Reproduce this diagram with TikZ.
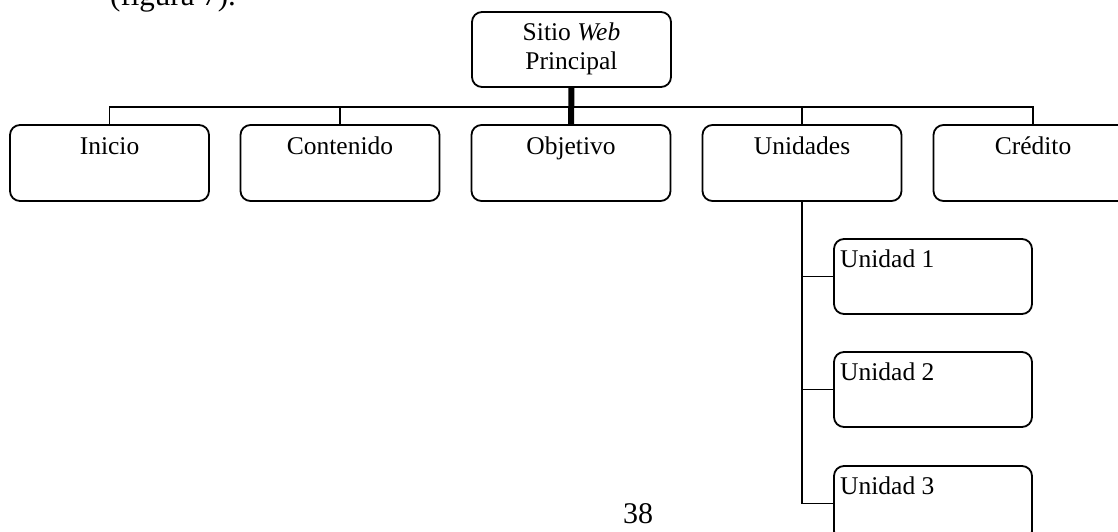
\documentclass[tikz,border=0pt]{standalone}
\usepackage{fontspec}
\setmainfont{Liberation Serif}
\begin{document}
\begin{tikzpicture}[x=1pt,y=-1pt,
  box/.style={draw, line width=1.8pt, rounded corners=10pt,
    minimum width=199pt, minimum height=76pt, inner sep=0pt, outer sep=0pt},
  subbox/.style={box, minimum width=198pt, minimum height=75pt},
  caption/.style={font=\fontsize{25.5}{30}\selectfont, anchor=base, inner sep=0pt},
  subcaption/.style={caption, anchor=base west},
  link/.style={line width=1.6pt},
  trunk/.style={line width=6pt}]
\useasboundingbox (0,0) rectangle (1118,532);

% running text of the page
\node[font=\fontsize{31}{36}\selectfont, anchor=base west, inner sep=0pt] (figref) at (110,6) {(figura 7).};
\node[font=\fontsize{30}{36}\selectfont, anchor=base, inner sep=0pt] (pagenum) at (638,523) {38};

% root of the site map
\node[box, minimum height=75pt] (root) at (571.5,49.5) {};
\node[caption] (root-a) at (571.5,41) {Sitio \textit{Web}};
\node[caption] (root-b) at (571.5,70) {Principal};

% main sections
\node[box] (inicio)    at (109.5,163) {};
\node[box] (contenido) at (340,163)   {};
\node[box] (objetivo)  at (571,163)   {};
\node[box] (unidades)  at (802,163)   {};
\node[box] (credito)   at (1033,163)  {};
\node[caption] (inicio-t)    at (109.5,154) {Inicio};
\node[caption] (contenido-t) at (340,154)   {Contenido};
\node[caption] (objetivo-t)  at (571,154)   {Objetivo};
\node[caption] (unidades-t)  at (802,154)   {Unidades};
\node[caption] (credito-t)   at (1033,154)  {Crédito};

% units
\node[subbox] (u1) at (933,276.5) {};
\node[subbox] (u2) at (933,389.5) {};
\node[subbox] (u3) at (933,503.5) {};
\node[subcaption] (u1-t) at (840,267) {Unidad 1};
\node[subcaption] (u2-t) at (840,380) {Unidad 2};
\node[subcaption] (u3-t) at (840,494) {Unidad 3};

% connectors
\coordinate (bus) at (571,107);
\draw[link] (inicio.north) |- (credito.north |- bus) -- (credito.north);
\draw[link] (contenido.north) -- (contenido.north |- bus);
\draw[link] (unidades.north) -- (unidades.north |- bus);
\draw[trunk] (root.south) -- (objetivo.north);

\draw[link] (unidades.south) |- (u3.west);
\draw[link] (u1.west) -- (u1.west -| unidades.south);
\draw[link] (u2.west) -- (u2.west -| unidades.south);
\end{tikzpicture}
\end{document}
